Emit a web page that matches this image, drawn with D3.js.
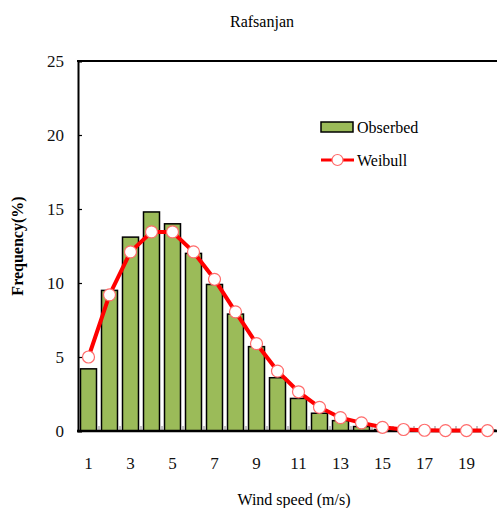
<!DOCTYPE html>
<html>
<head>
<meta charset="utf-8">
<script src="https://cdn.jsdelivr.net/npm/d3@7"></script>
<style>
    body { margin: 0; background: #fff; }
    svg { display: block; font-family: "Liberation Serif", "DejaVu Serif", serif; }
</style>
</head>
<body>
<div class="panel"></div>
<script>

// Data ////////////////////////////////////

const speeds = d3.range(1, 21);
const observed = [4.2, 9.5, 13.1, 14.8, 14.0, 12.0, 9.9, 7.9, 5.7, 3.6, 2.2, 1.2, 0.7, 0.3, 0.1, 0.1, 0.05, 0.05, 0.05, 0.05];
const weibull = [5.0, 9.2, 12.1, 13.45, 13.45, 12.1, 10.25, 8.05, 5.9, 4.05, 2.65, 1.6, 0.9, 0.55, 0.25, 0.1, 0.05, 0.03, 0.03, 0.03];
const yTicks = [0, 5, 10, 15, 20, 25];
const xLabels = [1, 3, 5, 7, 9, 11, 13, 15, 17, 19];

const dim = { width: 497, height: 508 };
const margin = { top: 61, right: 0, bottom: 77, left: 78 };

const colors = { bar: "#9bbb59", line: "#ff0000", marker: "#ff6b6b" };

// Chart ////////////////////////////////////

const svg = d3.select(".panel").append("svg")
    .attr("width", dim.width)
    .attr("height", dim.height);

const x = d3.scaleBand()
    .domain(speeds)
    .range([margin.left, margin.left + 420])
    .paddingInner(0.19)
    .paddingOuter(0.095);

const xc = d => margin.left + (d - 1) * 21 + 10.5;

const y = d3.scaleLinear()
    .domain([0, 25])
    .range([dim.height - margin.bottom, margin.top]);

// Title

svg.append("text")
    .attr("x", 262)
    .attr("y", 27)
    .attr("text-anchor", "middle")
    .style("font-size", "16px")
    .text("Rafsanjan");

// Bars

svg.append("g")
    .selectAll("rect")
    .data(speeds)
    .join("rect")
    .attr("x", d => xc(d) - 8)
    .attr("width", 16)
    .attr("y", (d, i) => y(observed[i]))
    .attr("height", (d, i) => y(0) - y(observed[i]))
    .attr("fill", colors.bar)
    .attr("stroke", "#000")
    .attr("stroke-width", 1.5);

// Inner x ticks at band edges

svg.append("g")
    .selectAll("line")
    .data(d3.range(1, 20))
    .join("line")
    .attr("x1", d => margin.left + d * 21)
    .attr("x2", d => margin.left + d * 21)
    .attr("y1", y(0))
    .attr("y2", y(0) - 5)
    .attr("stroke", "#888")
    .attr("stroke-width", 1);

// Axes frame

const yAxis = svg.append("g")
    .attr("transform", `translate(${ margin.left }, 0)`)
    .call(d3.axisLeft(y).tickValues(yTicks).tickSize(-4).tickPadding(14));

yAxis.select(".domain").attr("stroke-width", 2);
yAxis.selectAll(".tick line").attr("stroke-width", 1.2);
yAxis.selectAll(".tick text")
    .style("font-family", "Liberation Serif, serif")
    .style("font-size", "17px")
    .attr("fill", "#111");

svg.append("line")
    .attr("x1", margin.left - 1)
    .attr("x2", dim.width)
    .attr("y1", y(25))
    .attr("y2", y(25))
    .attr("stroke", "#000")
    .attr("stroke-width", 2);

svg.append("line")
    .attr("x1", margin.left - 1)
    .attr("x2", dim.width)
    .attr("y1", y(0))
    .attr("y2", y(0))
    .attr("stroke", "#000")
    .attr("stroke-width", 2.5);

svg.append("g")
    .selectAll("text")
    .data(xLabels)
    .join("text")
    .attr("x", d => xc(d))
    .attr("y", 469)
    .attr("text-anchor", "middle")
    .style("font-size", "17px")
    .attr("fill", "#111")
    .text(d => d);

// Axis titles

svg.append("text")
    .attr("transform", `translate(23, ${ y(12.5) }) rotate(-90)`)
    .attr("text-anchor", "middle")
    .style("font-size", "16px")
    .style("font-weight", "bold")
    .text("Frequency(%)");

svg.append("text")
    .attr("x", 294)
    .attr("y", 505)
    .attr("text-anchor", "middle")
    .style("font-size", "16px")
    .text("Wind speed (m/s)");

// Weibull line

const line = d3.line()
    .x(d => xc(d))
    .y((d, i) => y(weibull[i]));

svg.append("path")
    .datum(speeds)
    .attr("d", line)
    .attr("fill", "none")
    .attr("stroke", colors.line)
    .attr("stroke-width", 4)
    .attr("stroke-linejoin", "round");

svg.append("g")
    .selectAll("circle")
    .data(speeds)
    .join("circle")
    .attr("cx", d => xc(d))
    .attr("cy", (d, i) => y(weibull[i]))
    .attr("r", 6)
    .attr("fill", "#fff")
    .attr("stroke", colors.marker)
    .attr("stroke-width", 1.2);

// Legend

const legend = svg.append("g").attr("transform", "translate(321, 0)");

legend.append("rect")
    .attr("x", 0)
    .attr("y", 122)
    .attr("width", 32)
    .attr("height", 10)
    .attr("fill", colors.bar)
    .attr("stroke", "#000")
    .attr("stroke-width", 1.5);

legend.append("text")
    .attr("x", 36)
    .attr("y", 133)
    .style("font-size", "16px")
    .text("Obserbed");

legend.append("line")
    .attr("x1", 0)
    .attr("x2", 33)
    .attr("y1", 160)
    .attr("y2", 160)
    .attr("stroke", colors.line)
    .attr("stroke-width", 3);

legend.append("circle")
    .attr("cx", 16.5)
    .attr("cy", 160)
    .attr("r", 5.5)
    .attr("fill", "#fff")
    .attr("stroke", colors.marker)
    .attr("stroke-width", 1.2);

legend.append("text")
    .attr("x", 36)
    .attr("y", 166)
    .style("font-size", "16px")
    .text("Weibull");

</script>
</body>
</html>
